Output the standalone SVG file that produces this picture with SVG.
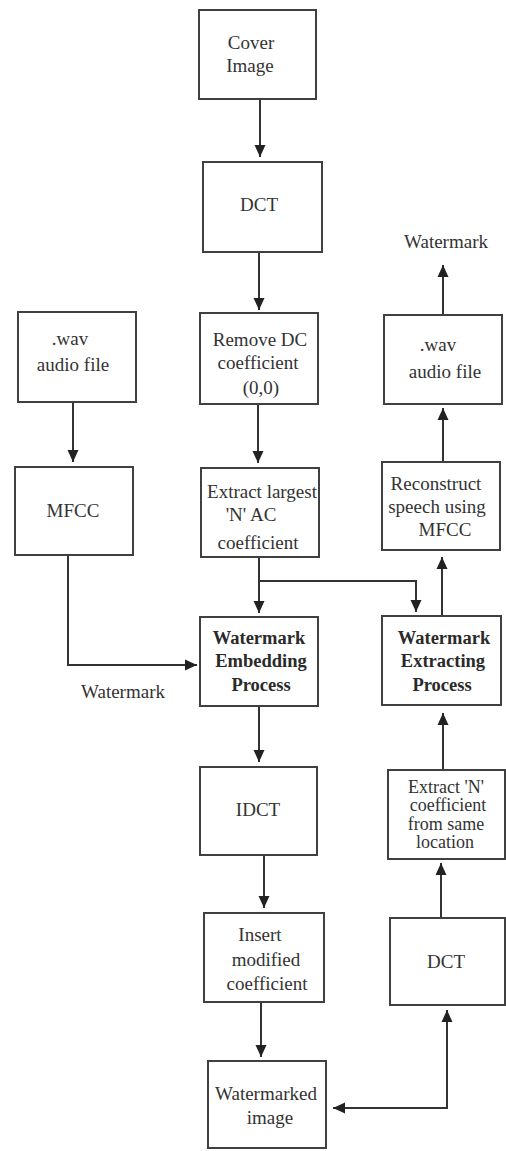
<svg xmlns="http://www.w3.org/2000/svg" width="506" height="1151" viewBox="0 0 506 1151">
<style>
.box{fill:#fff;stroke:#404040;stroke-width:2}
.t{font-family:"Liberation Serif","Times New Roman",serif;font-size:19px;fill:#333;text-anchor:middle}
.b{font-weight:bold;font-size:18.5px;fill:#2a2a2a}
.s{font-size:18px}
.c{fill:none;stroke:#333;stroke-width:2}
</style>
<defs>
<marker id="ah" markerUnits="userSpaceOnUse" markerWidth="12" markerHeight="12" viewBox="0 0 12 12" refX="12" refY="6" orient="auto-start-reverse">
<path d="M0,0.5 L12,6 L0,11.5 z" fill="#222"/>
</marker>
</defs>
<rect width="506" height="1151" fill="#fff"/>
<g id="connectors" class="c">
<path d="M260,99 V157" marker-end="url(#ah)"/>
<path d="M259,252 V310" marker-end="url(#ah)"/>
<path d="M258,404 V463" marker-end="url(#ah)"/>
<path d="M73,402 V462" marker-end="url(#ah)"/>
<path d="M68,555 V665 H197" marker-end="url(#ah)"/>
<path d="M259,557 V613" marker-end="url(#ah)"/>
<path d="M259,581 H416 V612" marker-end="url(#ah)"/>
<path d="M259,706 V762" marker-end="url(#ah)"/>
<path d="M264,855 V908" marker-end="url(#ah)"/>
<path d="M261,1002 V1057" marker-end="url(#ah)"/>
<path d="M333,1108 H447 V1010" marker-start="url(#ah)" marker-end="url(#ah)"/>
<path d="M441,918 V863" marker-end="url(#ah)"/>
<path d="M443,770 V713" marker-end="url(#ah)"/>
<path d="M442,616 V557" marker-end="url(#ah)"/>
<path d="M443,462 V408" marker-end="url(#ah)"/>
<path d="M443,315 V265" marker-end="url(#ah)"/>
</g>
<g id="cover">
<rect class="box" x="199" y="10" width="117" height="89"/>
<text class="t" x="251" y="49">Cover</text>
<text class="t" x="250" y="72">Image</text>
</g>
<g id="dct1">
<rect class="box" x="203" y="162" width="119" height="90"/>
<text class="t" x="259" y="211">DCT</text>
</g>
<g id="removedc">
<rect class="box" x="200" y="313" width="118" height="91"/>
<text class="t" x="260" y="346">Remove DC</text>
<text class="t" x="258" y="369">coefficient</text>
<text class="t" x="261" y="394">(0,0)</text>
</g>
<g id="extractlargest">
<rect class="box" x="201" y="468" width="118" height="89"/>
<text class="t" x="262" y="498">Extract largest</text>
<text class="t" x="251" y="521">'N' AC</text>
<text class="t" x="258" y="549">coefficient</text>
</g>
<g id="wavleft">
<rect class="box" x="18" y="312" width="118" height="90"/>
<text class="t" x="70" y="345">.wav</text>
<text class="t" x="73" y="371">audio  file</text>
</g>
<g id="mfcc">
<rect class="box" x="15" y="467" width="118" height="88"/>
<text class="t" x="73" y="517">MFCC</text>
</g>
<g id="watermarklabel1">
<text class="t" x="123" y="698">Watermark</text>
</g>
<g id="embedding">
<rect class="box" x="200" y="617" width="118" height="89"/>
<text class="t b" x="259" y="644">Watermark</text>
<text class="t b" x="261" y="667">Embedding</text>
<text class="t b" x="261" y="691">Process</text>
</g>
<g id="idct">
<rect class="box" x="200" y="767" width="117" height="88"/>
<text class="t" x="258" y="816">IDCT</text>
</g>
<g id="insert">
<rect class="box" x="204" y="913" width="120" height="89"/>
<text class="t" x="260" y="941">Insert</text>
<text class="t" x="266" y="966">modified</text>
<text class="t" x="267" y="990">coefficient</text>
</g>
<g id="watermarked">
<rect class="box" x="208" y="1061" width="118" height="87"/>
<text class="t" x="266" y="1100">Watermarked</text>
<text class="t" x="270" y="1124">image</text>
</g>
<g id="watermarklabel2">
<text class="t" x="446" y="248">Watermark</text>
</g>
<g id="wavright">
<rect class="box" x="384" y="315" width="118" height="89"/>
<text class="t" x="438" y="351">.wav</text>
<text class="t" x="445" y="378">audio  file</text>
</g>
<g id="reconstruct">
<rect class="box" x="382" y="462" width="118" height="88"/>
<text class="t" x="436" y="490">Reconstruct</text>
<text class="t" x="437" y="513">speech using</text>
<text class="t" x="445" y="536">MFCC</text>
</g>
<g id="extracting">
<rect class="box" x="382" y="616" width="119" height="89"/>
<text class="t b" x="444" y="644">Watermark</text>
<text class="t b" x="443" y="667">Extracting</text>
<text class="t b" x="442" y="691">Process</text>
</g>
<g id="extractn">
<rect class="box" x="388" y="770" width="117" height="89"/>
<text class="t s" x="446" y="793">Extract 'N'</text>
<text class="t s" x="448" y="811">coefficient</text>
<text class="t s" x="446" y="830">from same</text>
<text class="t s" x="445" y="848">location</text>
</g>
<g id="dct2">
<rect class="box" x="390" y="918" width="115" height="87"/>
<text class="t" x="446" y="968">DCT</text>
</g>
</svg>
